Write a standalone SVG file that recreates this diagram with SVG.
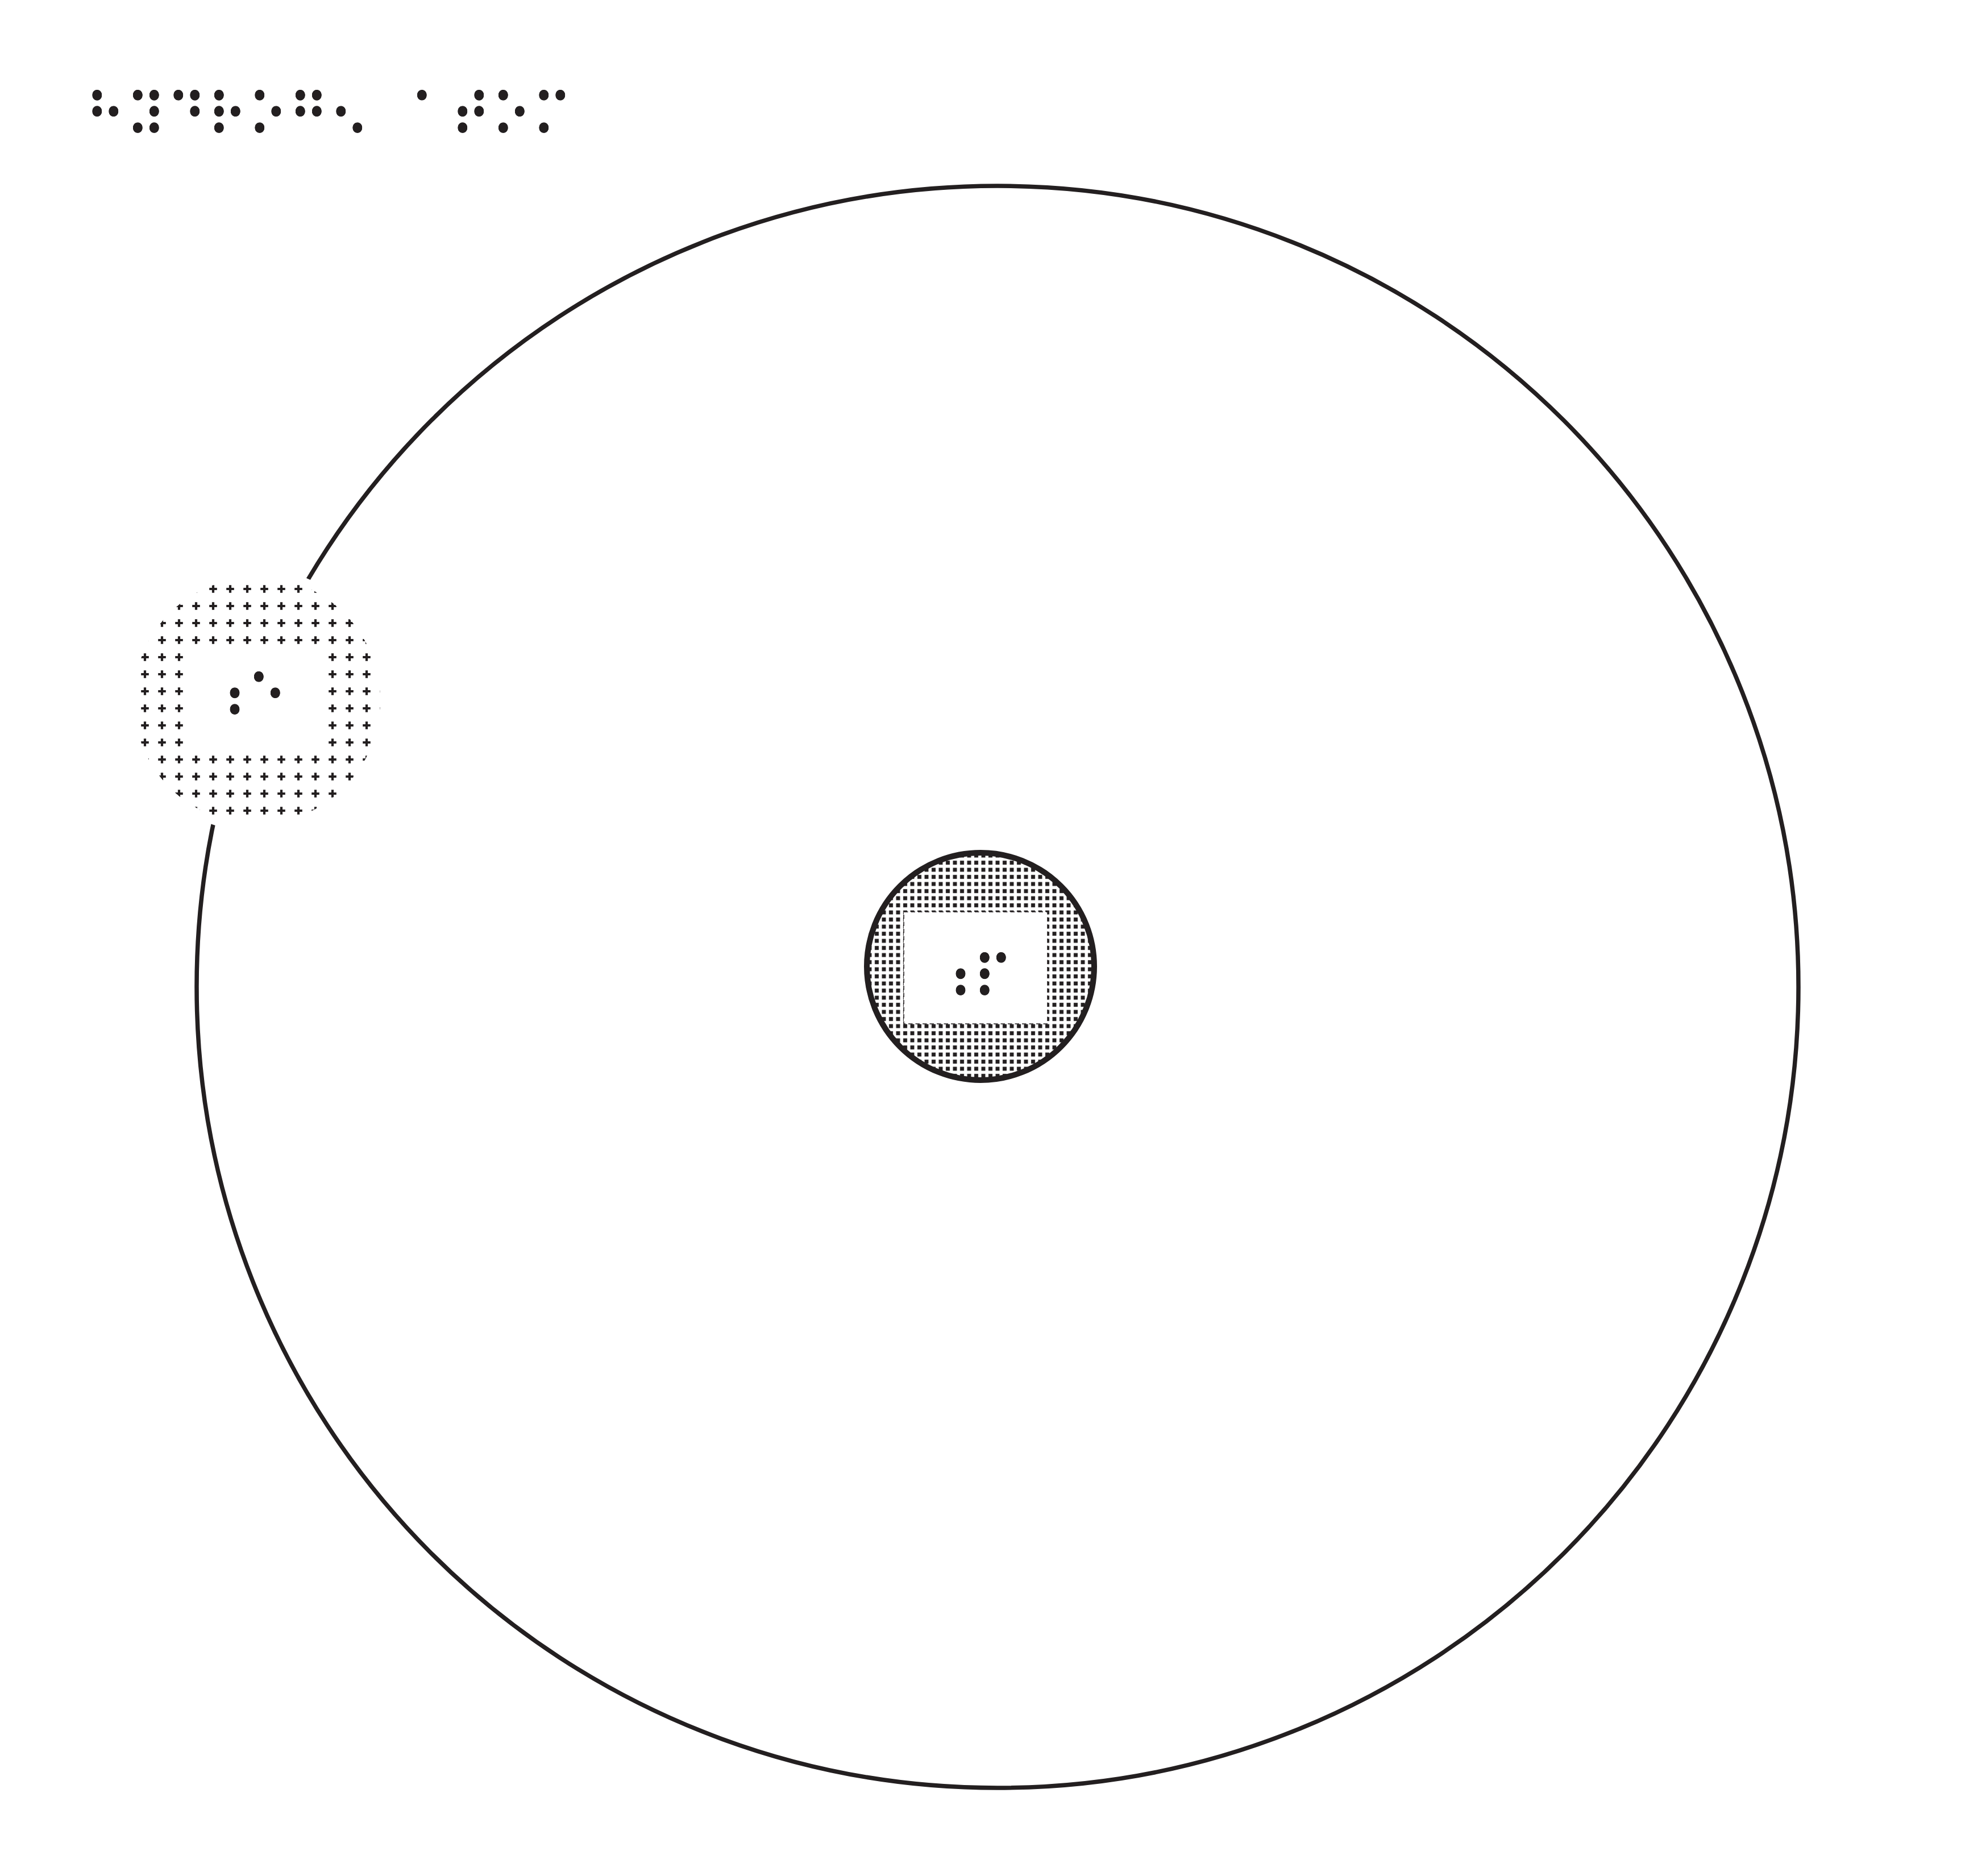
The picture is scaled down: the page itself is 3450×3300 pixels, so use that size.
<svg xmlns="http://www.w3.org/2000/svg" width="3450" height="3300" viewBox="0 0 3450 3300">
<defs>
<style>
.line{fill:none;stroke:#231f20}
.braille{font-family:"DejaVu Sans",sans-serif;font-size:99px;letter-spacing:-1px;fill:#231f20;filter:url(#roundDots)}
.knock{fill:#ffffff}
</style>
<filter id="roundDots" x="-10%" y="-20%" width="120%" height="140%" color-interpolation-filters="sRGB">
<feGaussianBlur in="SourceAlpha" stdDeviation="5" result="b"/>
<feComponentTransfer in="b" result="t"><feFuncA type="linear" slope="20" intercept="-6.4"/></feComponentTransfer>
<feFlood flood-color="#231f20" result="c"/>
<feComposite in="c" in2="t" operator="in"/>
</filter>
<pattern id="plusPat" patternUnits="userSpaceOnUse" x="240" y="1021" width="30" height="30">
<path d="M8.2 15H21.8M15 8.2V21.8" stroke="#231f20" stroke-width="4.2"/>
</pattern>
<pattern id="sqPat" patternUnits="userSpaceOnUse" x="1573.75" y="1573.75" width="12.5" height="12.5">
<rect x="2.75" y="2.75" width="7" height="7" fill="#231f20"/>
</pattern>
<clipPath id="electronClip"><circle cx="452" cy="1232" r="217"/></clipPath>
</defs>
<rect x="0" y="0" width="3450" height="3300" fill="#ffffff"/>

<g id="orbit">
<circle class="line" cx="1755" cy="1736" r="1409" stroke-width="7.5"/>
</g>

<g id="title" transform="translate(0,240.6) scale(1,1.0556)">
<text class="braille" x="149.3" y="0">⠓⠽⠙⠗⠕⠛⠢ <tspan x="720.8">⠁⠞⠕⠍</tspan></text>
</g>

<g id="electron">
<circle class="knock" cx="452" cy="1232" r="232"/>
<rect x="200" y="1000" width="520" height="480" fill="url(#plusPat)" clip-path="url(#electronClip)"/>
<rect class="knock" x="330" y="1141" width="240" height="180"/>
<g transform="translate(0,1264.4) scale(1,1.0556)">
<text class="braille" x="362.3" y="0">⠰⠑</text>
</g>
</g>

<g id="nucleus">
<circle cx="1725" cy="1700" r="196" fill="url(#sqPat)"/>
<rect class="knock" x="1590" y="1604" width="253" height="197"/>
<rect x="1590" y="1604" width="253" height="197" fill="none" stroke="#231f20" stroke-width="1.6" stroke-dasharray="7.5 5"/>
<g transform="translate(0,1758.4) scale(1,1.0556)">
<text class="braille" x="1639.3" y="0">⠰⠏</text>
</g>
<circle class="line" cx="1725" cy="1700" r="200" stroke-width="10"/>
</g>
</svg>
